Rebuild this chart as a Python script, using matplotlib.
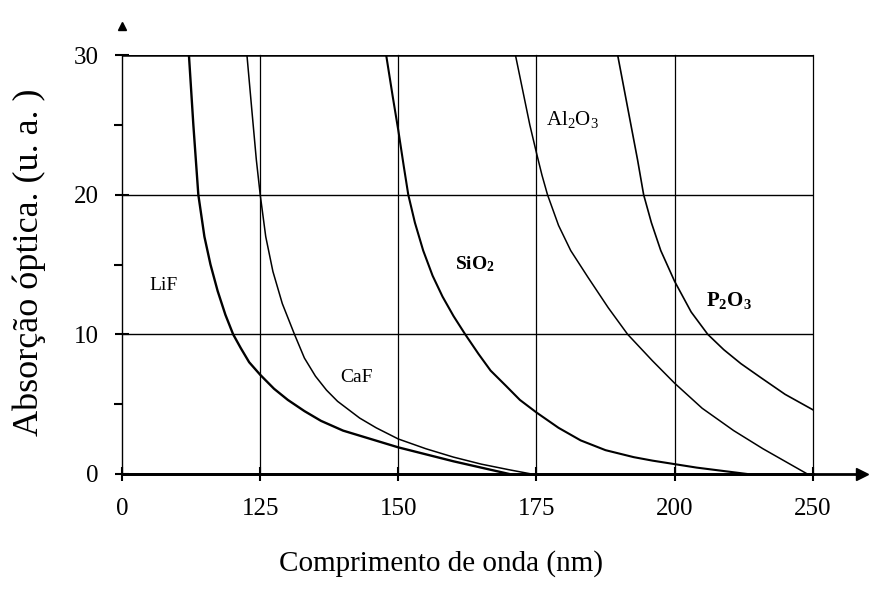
import matplotlib
matplotlib.use("Agg")
import matplotlib.pyplot as plt

plt.rcParams['font.family'] = ['Liberation Serif', 'DejaVu Serif']
plt.rcParams['mathtext.default'] = 'regular'

# tick values on a linear scale; last label printed as 250 in the original
x_ticks = [100, 125, 150, 175, 200, 225]
x_labels = ['0', '125', '150', '175', '200', '250']
y_ticks = [0, 10, 20, 30]

lif_x = [112.1, 112.9, 113.8, 114.9, 116.0, 117.3, 118.7, 120.1, 121.5, 123.0, 125.0, 127.5, 130.0,
         133.0, 136.0, 140.0, 145.0, 150.0, 155.0, 160.0, 165.0, 170.0]
lif_y = [30.0, 25.0, 20.0, 17.0, 15.0, 13.1, 11.4, 10.0, 9.0, 8.0, 7.1, 6.1, 5.3,
         4.5, 3.8, 3.1, 2.5, 1.9, 1.4, 0.9, 0.45, 0.0]

caf_x = [122.6, 123.5, 124.3, 125.0, 126.0, 127.3, 129.0, 131.2, 133.0, 135.0, 137.0, 139.0,
         141.0, 143.0, 146.0, 150.0, 155.0, 160.0, 165.0, 170.0, 174.0]
caf_y = [30.0, 26.0, 22.5, 20.0, 17.0, 14.5, 12.2, 10.0, 8.3, 7.0, 6.0, 5.2,
         4.6, 4.0, 3.3, 2.5, 1.8, 1.2, 0.7, 0.3, 0.0]

sio2_x = [147.8, 149.0, 150.0, 151.0, 151.8, 153.0, 154.5, 156.2, 158.0, 160.0, 162.1, 164.5,
          166.7, 169.5, 172.0, 175.0, 179.0, 183.0, 187.5, 192.6, 196.0, 200.0, 204.0, 208.0, 213.0]
sio2_y = [30.0, 27.0, 24.6, 22.0, 20.0, 18.0, 16.0, 14.2, 12.7, 11.3, 10.0, 8.6,
          7.4, 6.3, 5.3, 4.4, 3.3, 2.4, 1.7, 1.2, 0.95, 0.7, 0.45, 0.25, 0.0]

al2o3_x = [171.2, 172.5, 173.8, 175.0, 176.0, 177.0, 179.0, 181.2, 184.3, 188.0, 191.5, 196.0,
           200.0, 205.0, 210.7, 216.0, 220.0, 224.0]
al2o3_y = [30.0, 27.5, 25.0, 23.0, 21.4, 20.0, 17.8, 16.0, 14.1, 11.9, 10.0, 8.1,
           6.5, 4.7, 3.1, 1.8, 0.9, 0.0]

p2o3_x = [189.7, 190.9, 192.1, 193.3, 194.4, 195.8, 197.5, 200.0, 203.0, 206.0, 208.9, 212.0,
          215.6, 220.0, 225.0]
p2o3_y = [30.0, 27.5, 25.0, 22.5, 20.0, 18.0, 16.0, 13.8, 11.6, 10.0, 8.9, 7.9,
          6.9, 5.7, 4.6]

fig = plt.figure(figsize=(8.72, 6.06), dpi=100)
ax = fig.add_axes([0.140, 0.218, 0.792, 0.691])

# grid / frame lines
for yv in [10, 20]:
    ax.axhline(yv, color='black', lw=1.0)
ax.axhline(30, color='black', lw=1.8)
for xv in x_ticks[1:]:
    ax.axvline(xv, color='black', lw=0.9, clip_on=False)

ax.plot(lif_x, lif_y, color='black', lw=1.7)
ax.plot(caf_x, caf_y, color='black', lw=1.1)
ax.plot(sio2_x, sio2_y, color='black', lw=1.5)
ax.plot(al2o3_x, al2o3_y, color='black', lw=1.1)
ax.plot(p2o3_x, p2o3_y, color='black', lw=1.2)

ax.text(107.5, 13.5, 'LiF', fontsize=14, va='center', ha='center')
ax.text(142.5, 6.9, 'CaF', fontsize=14, va='center', ha='center')
ax.text(163.8, 15.0, r'SiO$_2$', fontsize=14, fontweight='bold', va='center', ha='center')
ax.text(181.5, 25.4, r'Al$_2$O$_3$', fontsize=15, va='center', ha='center')
ax.text(209.8, 12.4, r'P$_2$O$_3$', fontsize=15, fontweight='bold', va='center', ha='center')

ax.set_xlim(100, 225)
ax.set_ylim(0, 30)
for s in ['top', 'right']:
    ax.spines[s].set_visible(False)
ax.spines['left'].set_linewidth(1.0)
ax.spines['bottom'].set_linewidth(2.0)

# x axis runs past the frame with an arrow; y axis arrow on top
ax.plot([100, 233], [0, 0], color='black', lw=2.0, clip_on=False)
ax.plot([234], [0], marker='>', color='black', ms=8, clip_on=False)
ax.plot([100], [32.1], marker='^', color='black', ms=6, clip_on=False)

ax.set_xticks(x_ticks)
ax.set_xticklabels(x_labels)
ax.set_yticks(y_ticks)
ax.set_yticks([5, 15, 25], minor=True)
ax.tick_params(axis='both', labelsize=18, direction='inout', length=10, width=1.5, pad=12)
ax.tick_params(axis='y', which='minor', direction='out', length=6, width=1.5)

ax.set_xlabel('Comprimento de onda (nm)', fontsize=21)
ax.set_ylabel('Absorção óptica. (u. a. )', fontsize=26)
ax.xaxis.set_label_coords(0.462, -0.181)
ax.yaxis.set_label_coords(-0.11, 0.506)

fig.savefig('out.png', dpi=100)
